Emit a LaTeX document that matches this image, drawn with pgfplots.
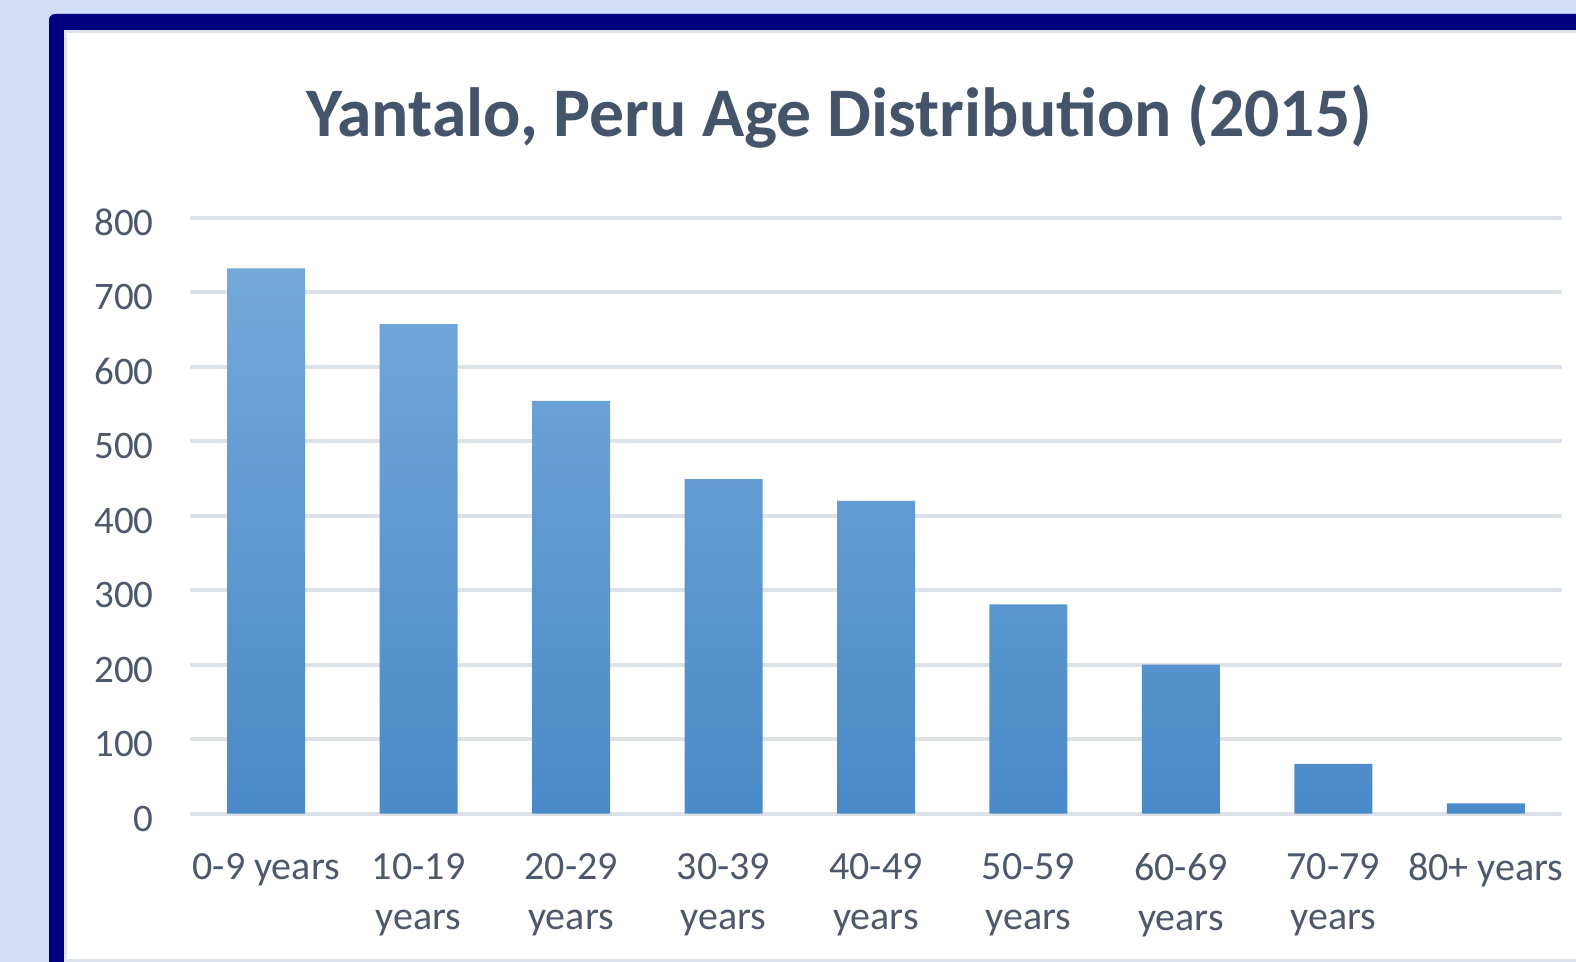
\documentclass[border=0pt]{standalone}
\usepackage{pgfplots}
\pgfplotsset{compat=1.18}
\usepackage{fontspec}
\setmainfont{Carlito}
\definecolor{bgblue}{HTML}{D2DEF5}
\definecolor{navyframe}{HTML}{000080}
\definecolor{frgray}{HTML}{DEE2EA}
\definecolor{gridgray}{HTML}{DDE1E8}
\definecolor{titlec}{HTML}{44546A}
\definecolor{tickc}{HTML}{4E586C}
\definecolor{bartop}{HTML}{74A8DA}
\definecolor{barbot}{HTML}{4A8AC8}

\pgfplotstableread{
x y
0 732
1 657
2 554
3 449
4 420
5 281
6 200
7 67
8 14
}\agedata

\begin{document}
\begin{tikzpicture}
\useasboundingbox (0,0) rectangle (788pt,481pt);
\clip (0,0) rectangle (788pt,481pt);
\fill[bgblue] (0,0) rectangle (788pt,481pt);
\fill[navyframe, rounded corners=3pt] (24.5pt,-10pt) rectangle (800pt,474pt);
\fill[frgray] (32pt,-10pt) rectangle (800pt,466pt);
\fill[white] (33.5pt,1.5pt) rectangle (800pt,464.5pt);
\node[font=\fontsize{34.8}{40}\selectfont\bfseries, text=titlec, anchor=base, inner sep=0pt] at (419.5pt,412.5pt) {Yantalo, Peru Age Distribution (2015)};
\begin{axis}[
  at={(95pt,74.15pt)}, anchor=south west,
  scale only axis, width=686pt, height=298pt,
  xmin=-0.5, xmax=8.5, ymin=0, ymax=800,
  ytick={0,100,...,800},
  xtick=data,
  xticklabels={0-9 years,{10-19\\years},{20-29\\years},{30-39\\years},{40-49\\years},{50-59\\years},{60-69\\years},{70-79\\years},80+ years},
  axis line style={draw=none},
  major tick length=0pt,
  ymajorgrids,
  grid style={gridgray, line width=2pt},
  /pgf/number format/assume math mode=true,
  yticklabel style={font=\fontsize{19.5}{25}\selectfont, text=tickc, anchor=east, inner sep=0pt, xshift=-18pt, yshift=-2.5pt},
  xticklabel style={font=\fontsize{20}{25}\selectfont, text=tickc, align=center, anchor=north, inner sep=0pt, yshift=-19.5pt},
  clip=false,
]
\addplot[ybar, bar width=39pt, draw=none, top color=bartop, bottom color=barbot] table[x=x, y=y] {\agedata};
\end{axis}
\end{tikzpicture}
\end{document}
